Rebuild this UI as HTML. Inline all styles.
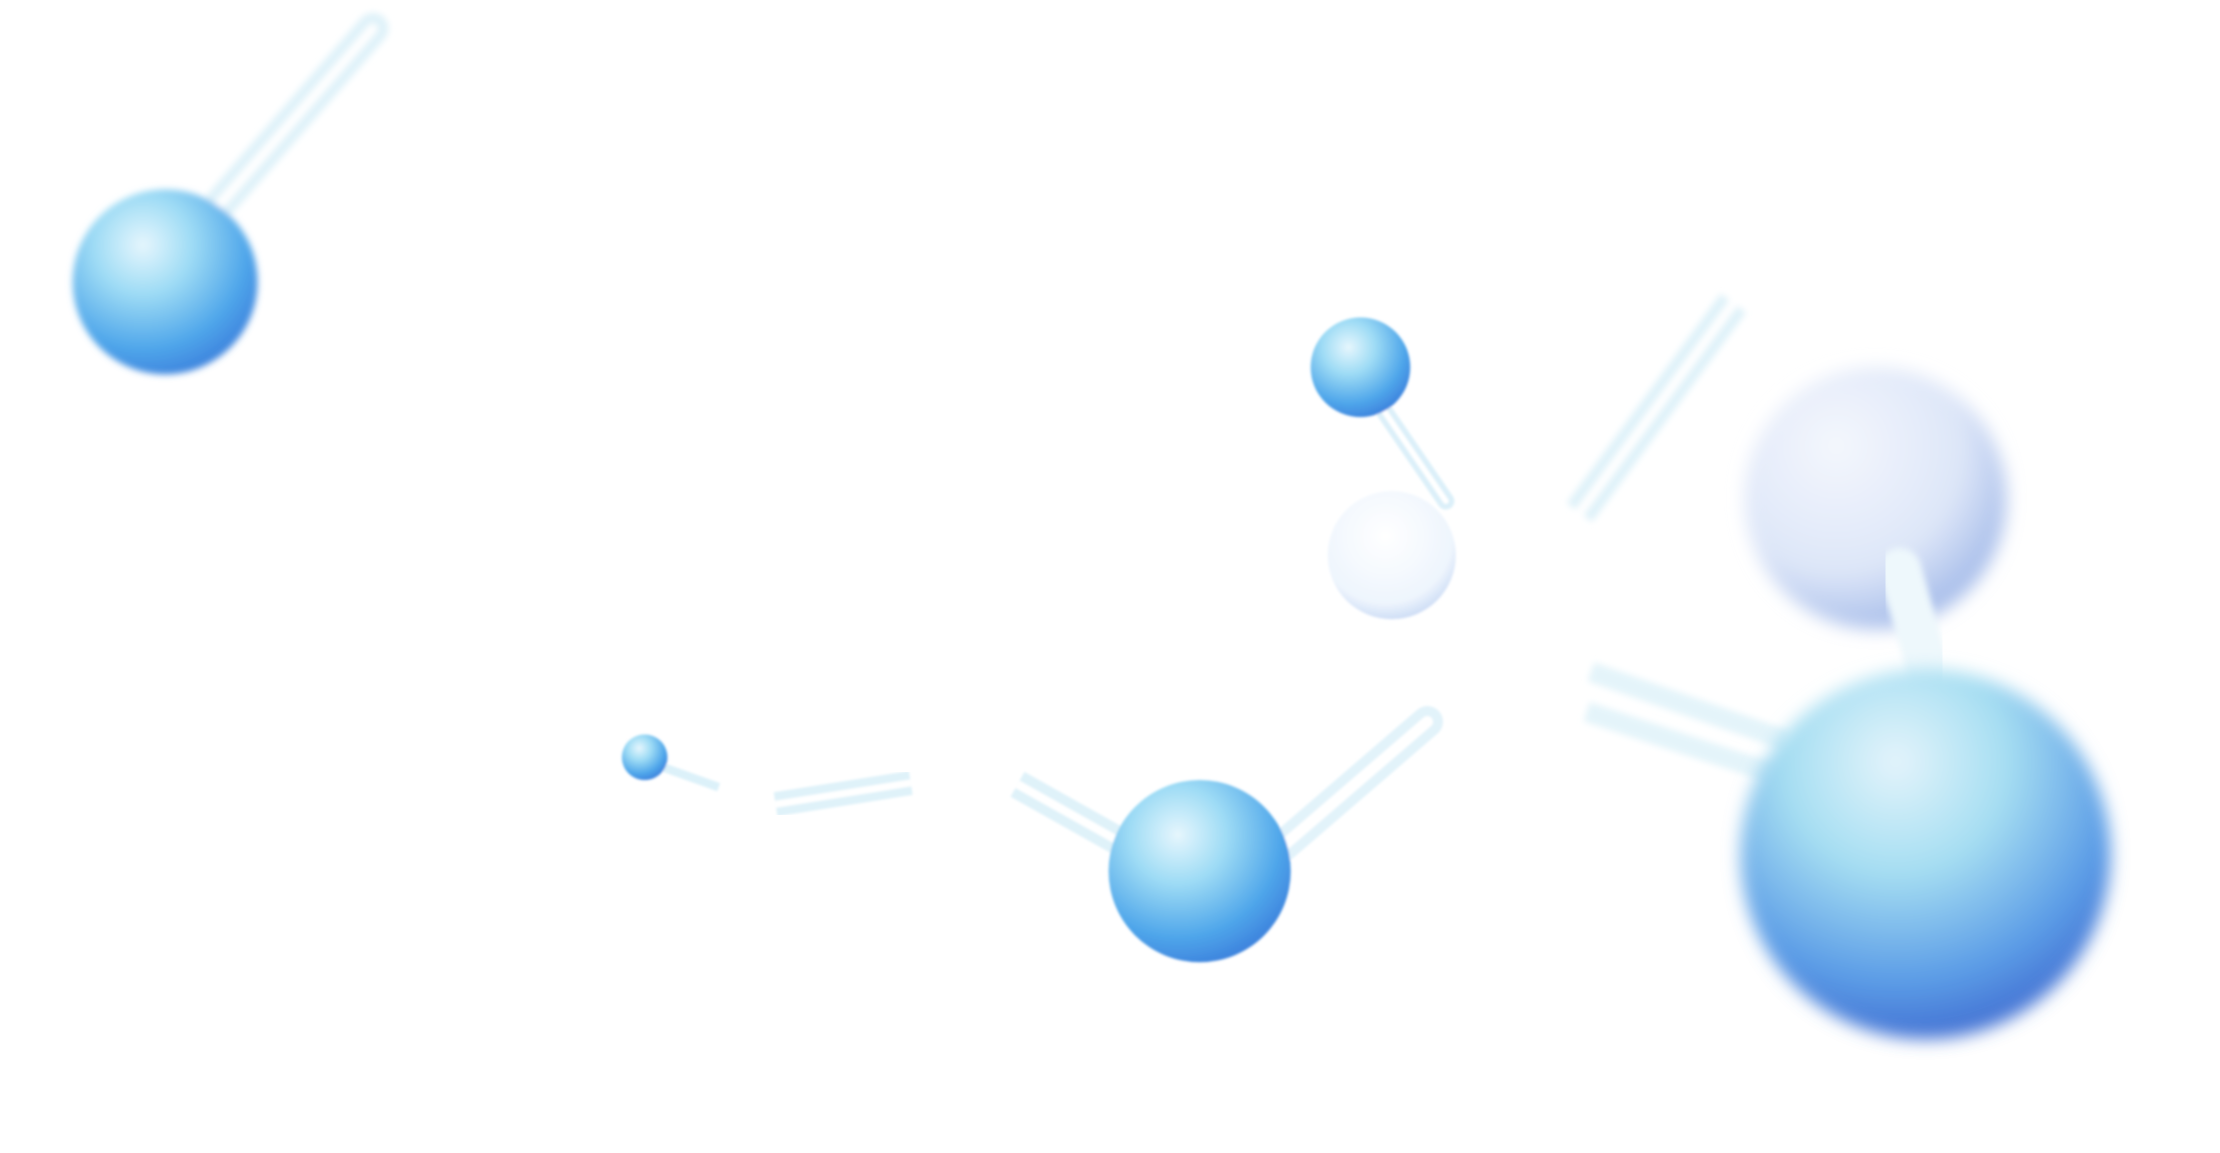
<!DOCTYPE html>
<html>
<head>
<meta charset="utf-8">
<style>
  html,body{margin:0;padding:0;background:#fff;width:2220px;height:1153px;overflow:hidden;}
  svg{display:block;}
</style>
</head>
<body>
<svg width="2220" height="1153" viewBox="0 0 1560 810" preserveAspectRatio="none" xmlns="http://www.w3.org/2000/svg">
  <defs>
    <radialGradient id="ball" cx="0.38" cy="0.3" r="0.75">
      <stop offset="0" stop-color="#e6f6fd"/>
      <stop offset="0.35" stop-color="#9fdcf5"/>
      <stop offset="0.75" stop-color="#4fa6ea"/>
      <stop offset="1" stop-color="#3b7fdc"/>
    </radialGradient>
    <radialGradient id="ballBig" cx="0.42" cy="0.25" r="0.85">
      <stop offset="0" stop-color="#e4f4fb"/>
      <stop offset="0.35" stop-color="#a6def2"/>
      <stop offset="0.7" stop-color="#5b9ce6"/>
      <stop offset="1" stop-color="#3558c8"/>
    </radialGradient>
    <radialGradient id="ballPale" cx="0.35" cy="0.3" r="0.8">
      <stop offset="0" stop-color="#f4f7fd"/>
      <stop offset="0.6" stop-color="#dde6f8"/>
      <stop offset="1" stop-color="#97b1e6"/>
    </radialGradient>
    <radialGradient id="ballWhite" cx="0.45" cy="0.35" r="0.75">
      <stop offset="0" stop-color="#ffffff"/>
      <stop offset="0.7" stop-color="#eef5fd"/>
      <stop offset="1" stop-color="#b7ccf0"/>
    </radialGradient>
    <filter id="b1" x="-50%" y="-50%" width="200%" height="200%"><feGaussianBlur stdDeviation="2.5"/></filter>
    <filter id="b2" x="-50%" y="-50%" width="200%" height="200%"><feGaussianBlur stdDeviation="6"/></filter>
    <filter id="b3" x="-50%" y="-50%" width="200%" height="200%"><feGaussianBlur stdDeviation="1"/></filter>
  </defs>

  <g filter="url(#b1)">
    <line x1="140" y1="160" x2="262" y2="20" stroke="#dff2f9" stroke-width="22" stroke-linecap="round"/>
    <line x1="140" y1="160" x2="262" y2="20" stroke="#ffffff" stroke-width="7" stroke-linecap="round"/>
    <circle cx="116" cy="198" r="65" fill="url(#ball)"/>
  </g>

  <g filter="url(#b3)">
    <line x1="463" y1="538" x2="505" y2="553" stroke="#dcf1f9" stroke-width="6"/>
    <circle cx="453" cy="532" r="16" fill="url(#ball)"/>
  </g>
  <g filter="url(#b3)">
    <line x1="545" y1="565" x2="640" y2="550" stroke="#dff2f9" stroke-width="17"/>
    <line x1="545" y1="565" x2="640" y2="550" stroke="#ffffff" stroke-width="5"/>
  </g>

  <g filter="url(#b3)">
    <line x1="715" y1="551" x2="788" y2="592" stroke="#dff2f9" stroke-width="20"/>
    <line x1="715" y1="551" x2="788" y2="592" stroke="#ffffff" stroke-width="6"/>
    <line x1="895" y1="600" x2="1003" y2="507" stroke="#e2f3fa" stroke-width="22" stroke-linecap="round"/>
    <line x1="895" y1="600" x2="1003" y2="507" stroke="#ffffff" stroke-width="8" stroke-linecap="round"/>
    <circle cx="843" cy="612" r="64" fill="url(#ball)"/>
  </g>

  <g filter="url(#b3)">
    <line x1="968" y1="282" x2="1016" y2="352" stroke="#dcf0f9" stroke-width="12" stroke-linecap="round"/>
    <line x1="968" y1="282" x2="1016" y2="352" stroke="#ffffff" stroke-width="4" stroke-linecap="round"/>
    <circle cx="956" cy="258" r="35" fill="url(#ball)"/>
  </g>
  <circle cx="978" cy="390" r="45" fill="url(#ballWhite)" filter="url(#b3)"/>

  <g filter="url(#b1)">
    <line x1="1110" y1="360" x2="1218" y2="213" stroke="#dff2f9" stroke-width="22"/>
    <line x1="1110" y1="360" x2="1218" y2="213" stroke="#ffffff" stroke-width="7"/>
  </g>

  <g filter="url(#b1)">
    <line x1="1118" y1="472" x2="1255" y2="520" stroke="#e4f4fa" stroke-width="14"/>
    <line x1="1115" y1="500" x2="1245" y2="543" stroke="#e4f4fa" stroke-width="14"/>
  </g>

  <circle cx="1318" cy="350" r="92" fill="url(#ballPale)" filter="url(#b2)"/>
  <line x1="1335" y1="400" x2="1355" y2="470" stroke="#eef8fc" stroke-width="30" stroke-linecap="round" filter="url(#b1)"/>
  <circle cx="1353" cy="600" r="130" fill="url(#ballBig)" filter="url(#b2)"/>
</svg>
</body>
</html>
